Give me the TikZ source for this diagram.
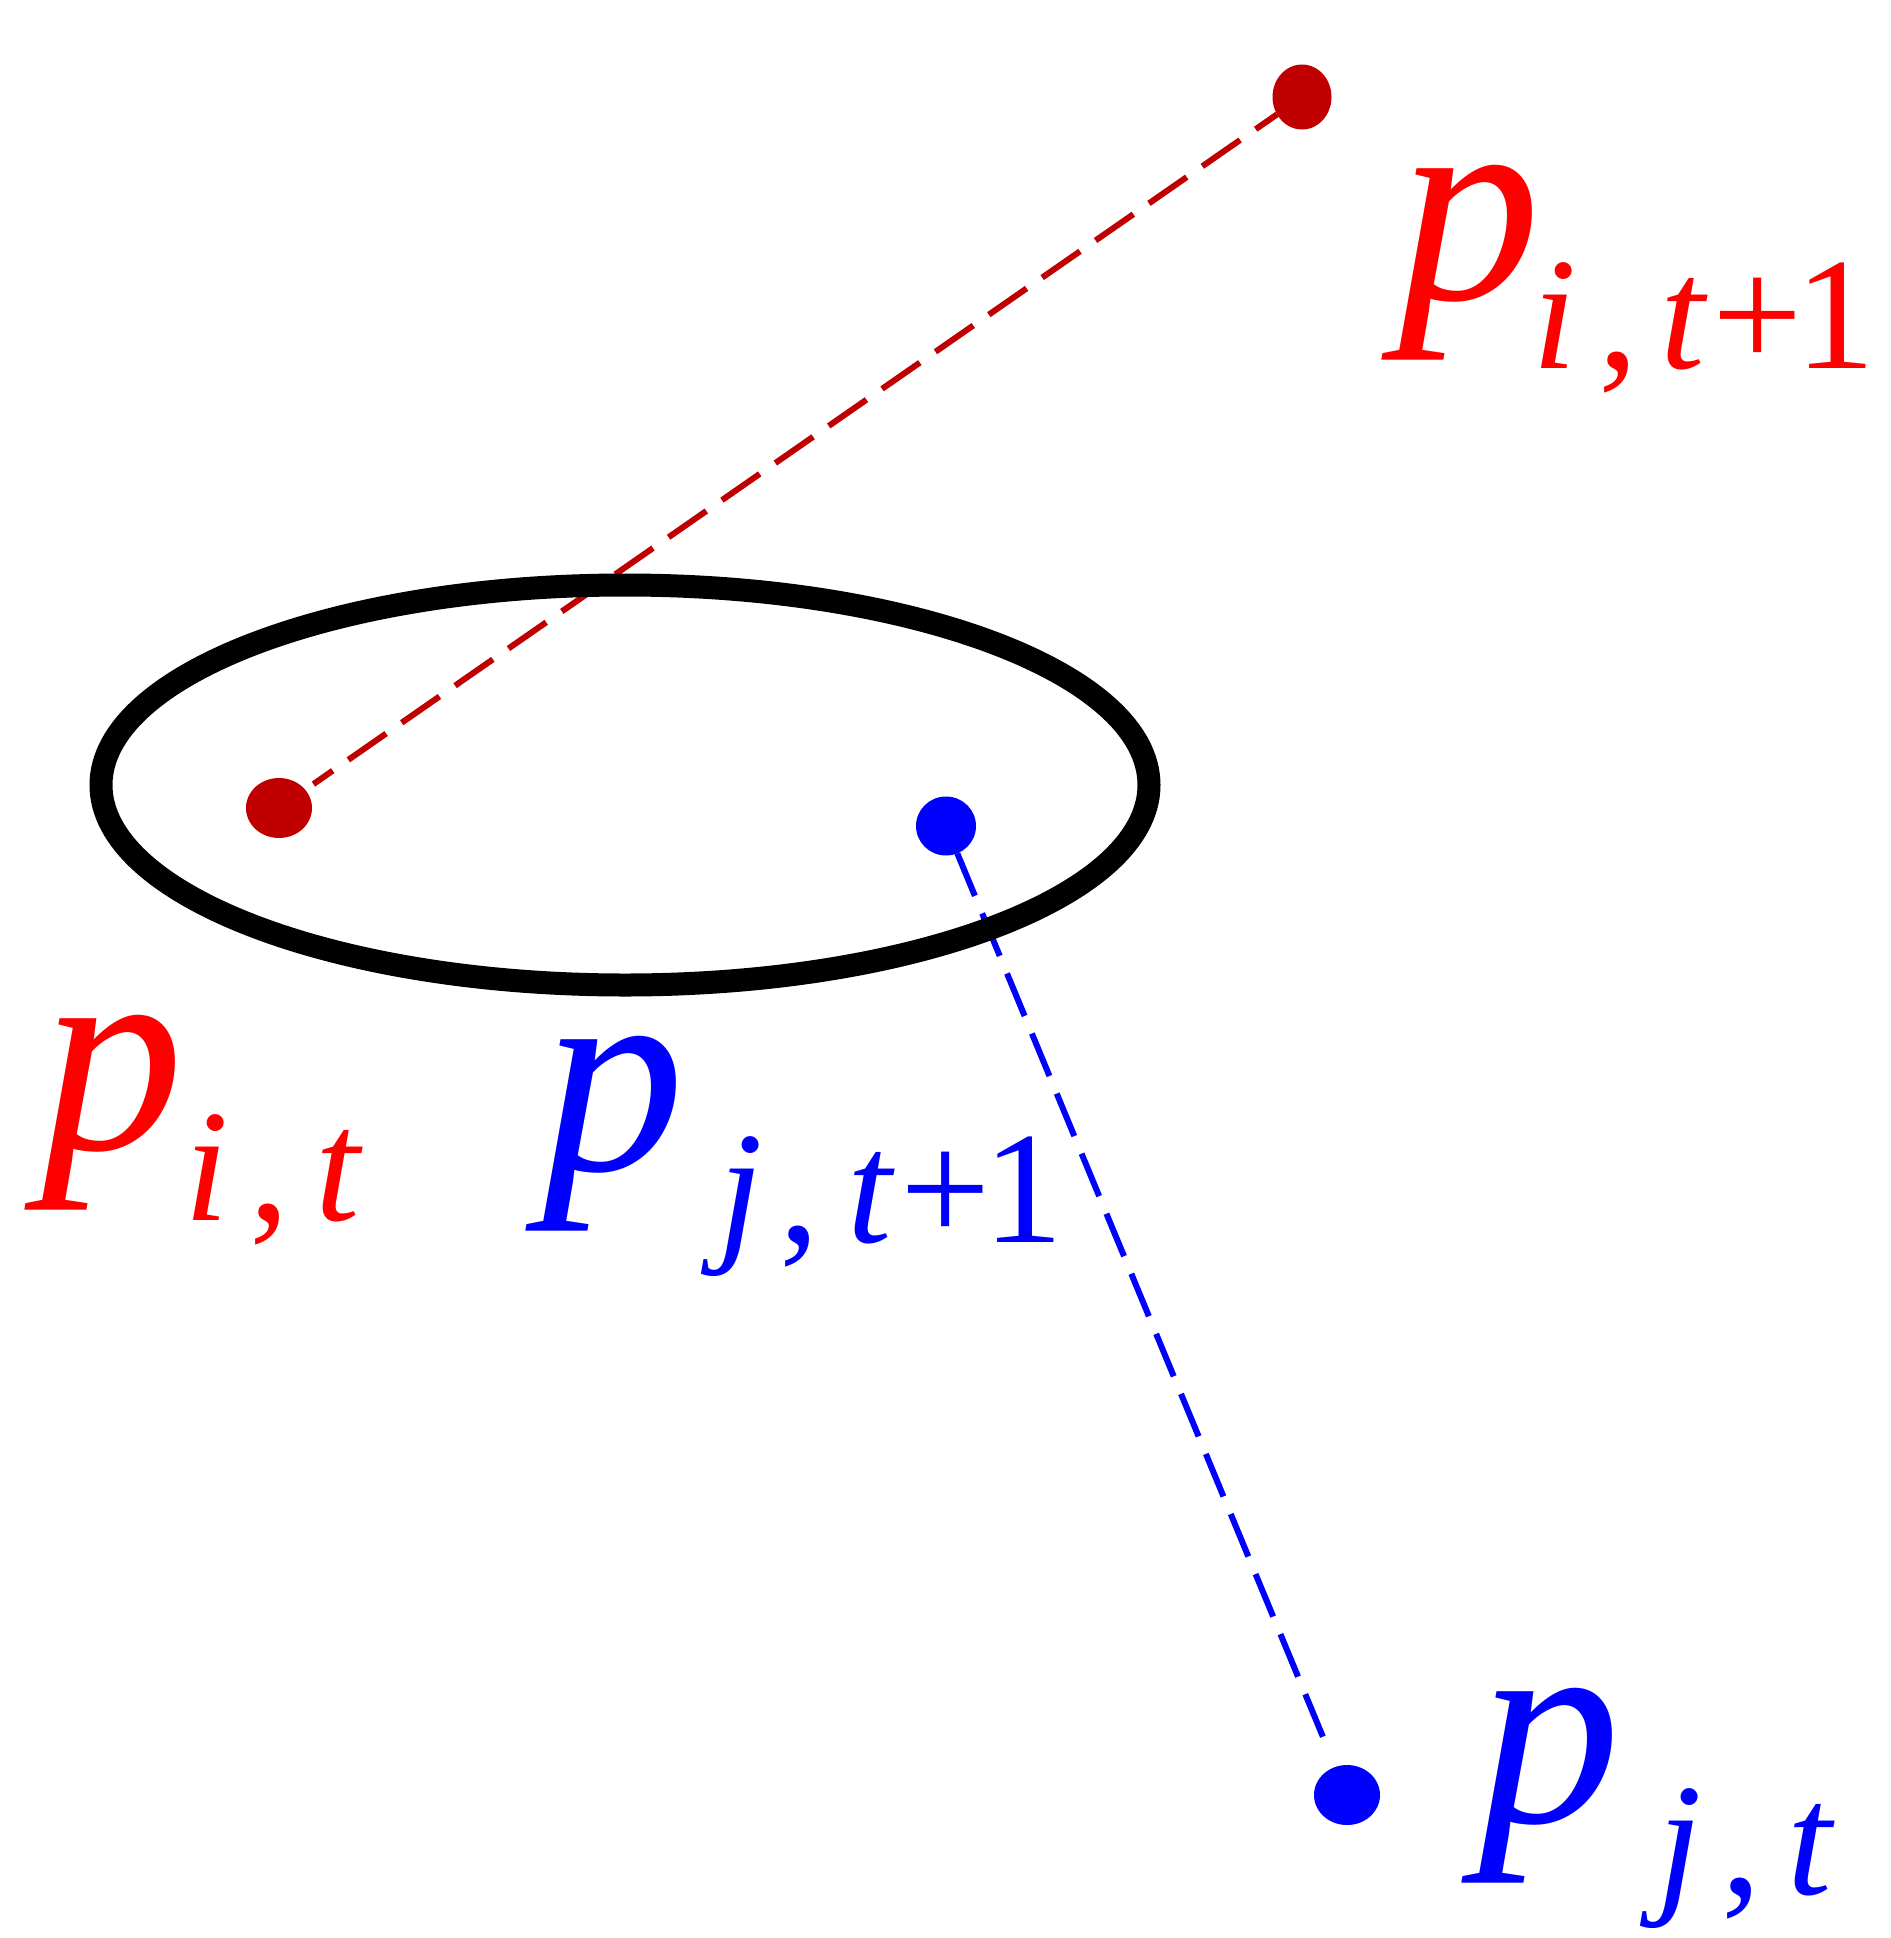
\documentclass[tikz,border=0pt]{standalone}
\usepackage{fontspec}
\setmainfont{Liberation Serif}
\usetikzlibrary{shapes.geometric}
\definecolor{dotred}{RGB}{192,0,0}
\definecolor{labred}{RGB}{255,0,0}
\definecolor{labblue}{RGB}{0,0,255}
\newcommand{\gl}[2]{\makebox[0pt][l]{\hspace*{#1pt}#2}}
\newcommand{\bigf}{\fontsize{285}{300}\selectfont\itshape}
\newcommand{\subf}{\fontsize{160}{170}\selectfont}
\begin{document}
\begin{tikzpicture}[x=1pt,y=-1pt,
  dotnode/.style={ellipse, inner sep=0pt, outer sep=0pt},
  traj/.style={line width=6pt, dash pattern=on 46pt off 19pt},
  lab/.style={anchor=base west, inner sep=0pt, outer sep=0pt}]
\useasboundingbox (0,0) rectangle (1890,1938);
% dots
\node[dotnode, fill=dotred, minimum width=59pt, minimum height=65pt] (pit1) at (1302,97) {};
\node[dotnode, fill=dotred, minimum width=66pt, minimum height=60pt] (pit) at (279,808) {};
\node[dotnode, fill=labblue, minimum width=60pt, minimum height=59pt] (pjt1) at (946,826) {};
\node[dotnode, fill=labblue, minimum width=66pt, minimum height=60pt] (pjt) at (1347,1795) {};
% trajectories
\draw[traj, dotred, dash phase=20pt, shorten >=10pt] (pit1) -- (pit);
\draw[traj, labblue, shorten >=16pt] (pjt1) -- (pjt);
% region
\draw[line width=23pt] (625,785) ellipse [x radius=524, y radius=200];
% labels
\node[lab, text=labred] (lit1) at (1398,299)
  {{\bigf\gl{0}{p}}\raisebox{-69pt}{\subf\gl{134}{\itshape i}\gl{200}{,}\gl{262}{\itshape t}\gl{314}{+}\gl{397}{1}}};
\node[lab, text=labred] (lit) at (41,1149)
  {{\bigf\gl{0}{p}}\raisebox{-71pt}{\subf\gl{143}{\itshape i}\gl{208}{,}\gl{274}{\itshape t}}};
\node[lab, text=labblue] (ljt1) at (542,1170)
  {{\bigf\gl{0}{p}}\raisebox{-72pt}{\subf\gl{176}{\itshape j}\gl{237}{,}\gl{305}{\itshape t}\gl{358}{+}\gl{441}{1}}};
\node[lab, text=labblue] (ljt) at (1478,1822)
  {{\bigf\gl{0}{p}}\raisebox{-72pt}{\subf\gl{179}{\itshape j}\gl{243}{,}\gl{309}{\itshape t}}};
\end{tikzpicture}
\end{document}
